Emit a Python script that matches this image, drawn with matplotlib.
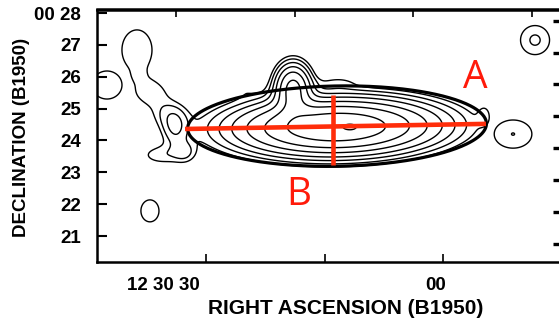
import numpy as np
import matplotlib
matplotlib.use("Agg")
import matplotlib.pyplot as plt

# ---- axes: RA in seconds past 12h30m (B1950), Dec in arcmin past 00d ----
ra_lim = (43.77, -14.86)
dec_lim = (20.185, 28.11)
ra_ticks = [30, 15, 0]
ra_label_pos = [35.4, 15.0, 1.0]
ra_tick_labels = ["12 30 30", "15", "00"]
dec_ticks = [28, 27, 26, 25, 24, 23, 22, 21]
dec_tick_labels = ["00 28", "27", "26", "25", "24", "23", "22", "21"]
top_ticks = [33.8, 18.8, 3.8, -11.2]
right_ticks = [27.76, 26.76, 25.76, 24.76, 23.76, 22.76, 21.76, 20.76]

# ---- contour levels ----
levels = [1.0, 1.55, 2.4, 3.7, 5.8, 9.0, 14.0, 21.5]

# ---- edge-on disk ----
disk_ra, disk_dec = 13.44, 24.42
disk_peak = 20.0
disk_sigma_major = 1.81     # arcmin
disk_sigma_minor = 0.51     # arcmin
disk_tilt = 1.0             # degrees

# ---- components blended with the disk: ra (s), dec ('), sigma_ra (s), sigma_dec ('), peak ----
#            nucleus companion  bumps................  tail..........................................
blend_ra = [11.55, 19.0, 25.70, 13.32, -5.20, 38.72, 38.59, 36.90, 34.80, 33.92, 35.60, 32.65]
blend_dec = [24.42, 25.65, 25.66, 25.83, 24.80, 26.84, 26.05, 25.48, 24.83, 24.39, 23.54, 23.64]
blend_sra = [1.01, 1.39, 1.77, 1.90, 0.60, 2.20, 0.60, 1.90, 1.64, 1.14, 2.20, 1.01]
blend_sdec = [0.126, 0.47, 0.20, 0.157, 0.25, 0.73, 0.16, 0.345, 0.314, 0.377, 0.25, 0.25]
blend_amp = [3.0, 10.0, 0.75, 0.8, 0.8, 1.45, 0.35, 1.2, 1.2, 2.1, 1.3, 1.2]

# ---- separate faint sources ----
src_ra = [42.51, 37.08, -11.58, -8.80]
src_dec = [25.74, 21.79, 27.15, 24.20]
src_sra = [2.20, 1.39, 1.83, 2.53]
src_sdec = [0.51, 0.42, 0.455, 0.47]
src_amp = [1.45, 1.4, 1.65, 1.555]

# ---- overlay: fitted ellipse and axes A / B ----
ell_ra, ell_dec = 13.44, 24.45
ell_a, ell_b = 4.72, 1.26   # arcmin
ell_tilt = 1.0
line_a_ra = [32.65, -5.38]
line_a_dec = [24.36, 24.52]
line_b_ra = [13.95, 13.95]
line_b_dec = [23.23, 25.43]
letters = ["A", "B"]
letter_ra = [-4.0, 18.25]
letter_dec = [25.65, 21.97]


def gauss(RA, DEC, r0, d0, sr, sd, amp):
    return amp * np.exp(-0.5 * (((RA - r0) / sr) ** 2 + ((DEC - d0) / sd) ** 2))


ra = np.linspace(-16, 45, 700)
dec = np.linspace(20.0, 28.3, 420)
RA, DEC = np.meshgrid(ra, dec)

t = np.radians(disk_tilt)
du = (RA - disk_ra) * 0.25
dv = DEC - disk_dec
u = du * np.cos(t) - dv * np.sin(t)
v = du * np.sin(t) + dv * np.cos(t)
field = disk_peak * np.exp(-0.5 * ((u / disk_sigma_major) ** 2 + (v / disk_sigma_minor) ** 2))
for p in zip(blend_ra, blend_dec, blend_sra, blend_sdec, blend_amp):
    field = field + gauss(RA, DEC, *p)
for p in zip(src_ra, src_dec, src_sra, src_sdec, src_amp):
    field = np.maximum(field, gauss(RA, DEC, *p))

W, H = 559, 322
fig = plt.figure(figsize=(W / 100, H / 100), dpi=100)
ax = fig.add_axes([97 / W, 60 / H, 464 / W, 252.5 / H])

ax.contour(RA, DEC, field, levels=levels, colors="black", linewidths=1.0)

# ellipse
s = np.linspace(0, 2 * np.pi, 400)
te = np.radians(ell_tilt)
eu = ell_a * np.cos(s)
ev = ell_b * np.sin(s)
e_du = eu * np.cos(te) + ev * np.sin(te)
e_dv = -eu * np.sin(te) + ev * np.cos(te)
ax.plot(ell_ra + e_du * 4.0, ell_dec + e_dv, color="black", lw=2.3, solid_capstyle="round")

red = "#ff2d0a"
ax.plot(line_a_ra, line_a_dec, color=red, lw=3.3, solid_capstyle="butt")
ax.plot(line_b_ra, line_b_dec, color=red, lw=3.3, solid_capstyle="butt")
for txt, x, y in zip(letters, letter_ra, letter_dec):
    ax.text(x, y, txt, color="#ff1a0a", fontsize=28, family="Open Sans",
            ha="center", va="baseline")

ax.set_xlim(*ra_lim)
ax.set_ylim(*dec_lim)

lab_font = dict(family="Liberation Sans", weight="bold")
ax.set_xticks(ra_ticks)
ax.set_xticklabels([])
ax.set_xticks(ra_label_pos, minor=True)
ax.set_xticklabels(ra_tick_labels, minor=True, fontsize=13.5, **lab_font)
ax.tick_params(axis="x", which="major", direction="in", length=6, width=1.2)
ax.tick_params(axis="x", which="minor", length=0, pad=11)
ax.set_yticks(dec_ticks)
ax.set_yticklabels(dec_tick_labels, fontsize=13.5, **lab_font)
ax.tick_params(axis="y", direction="in", length=7, width=1.5, pad=11.5)
ax.tick_params(top=False, right=False)

sec_x = ax.secondary_xaxis("top")
sec_x.set_xticks(top_ticks)
sec_x.set_xticklabels([])
sec_x.tick_params(direction="in", length=6, width=1.2)
sec_x.spines["top"].set_linewidth(1.8)

sec_y = ax.secondary_yaxis("right")
sec_y.set_yticks(right_ticks)
sec_y.set_yticklabels([])
sec_y.tick_params(direction="in", length=6, width=2.4)

for side in ("left", "bottom", "top"):
    ax.spines[side].set_linewidth(1.8)

ax.set_xlabel("RIGHT ASCENSION (B1950)", fontsize=15, **lab_font)
ax.xaxis.set_label_coords(0.537, -0.148)
ax.set_ylabel("DECLINATION (B1950)", fontsize=13.5, **lab_font)
ax.yaxis.set_label_coords(-0.145, 0.493)

fig.savefig("out.png", dpi=100)
